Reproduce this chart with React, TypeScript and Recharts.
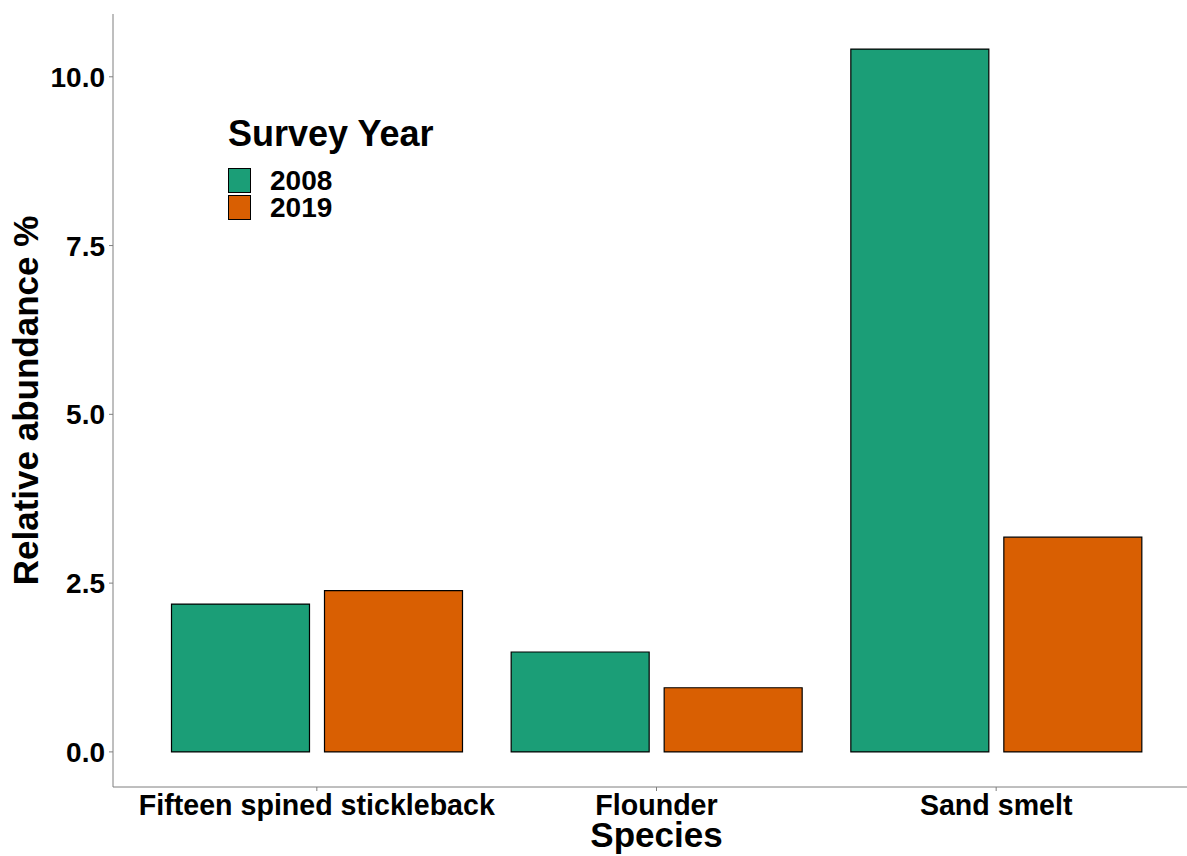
import React from 'react';
import { BarChart, Bar, XAxis, YAxis, Legend, Label } from 'recharts';

const species = ['Fifteen spined stickleback', 'Flounder', 'Sand smelt'];
const values2008 = [2.19, 1.48, 10.41];
const values2019 = [2.39, 0.95, 3.18];
const yTicks = [0, 2.5, 5, 7.5, 10];
const seriesNames = ['2008', '2019'];
const seriesColors = ['#1B9E77', '#D95F02'];

const data = species.map((s, i) => ({ species: s, y2008: values2008[i], y2019: values2019[i] }));

const FONT = '"Liberation Sans", Arial, sans-serif';
const AXIS_COLOR = '#7f7f7f';

const renderLegend = () => (
  <div style={{ fontFamily: FONT, fontWeight: 'bold', color: '#000' }}>
    <div style={{ fontSize: 36, lineHeight: '36px', whiteSpace: 'nowrap', marginBottom: 16.5 }}>Survey Year</div>
    {seriesNames.map((n, i) => (
      <div key={n} style={{ display: 'flex', alignItems: 'flex-start', height: 26.5 }}>
        <div
          style={{
            width: 23,
            height: 25,
            boxSizing: 'border-box',
            background: seriesColors[i],
            border: '1px solid #000',
          }}
        />
        <div style={{ fontSize: 28, lineHeight: '26px', marginLeft: 19 }}>{n}</div>
      </div>
    ))}
  </div>
);

const YLabel = (props: any) => {
  const vb = props.viewBox || {};
  const x = vb.x + 38;
  const y = vb.y + vb.height / 2;
  return (
    <text
      x={x}
      y={y}
      transform={`rotate(-90, ${x}, ${y})`}
      textAnchor="middle"
      fontFamily={FONT}
      fontWeight="bold"
      fontSize={35}
      fill="#000"
    >
      Relative abundance %
    </text>
  );
};

const XLabel = (props: any) => {
  const vb = props.viewBox || {};
  const x = vb.x + vb.width / 2;
  const y = vb.y + 60;
  return (
    <text x={x} y={y} textAnchor="middle" fontFamily={FONT} fontWeight="bold" fontSize={35} fill="#000">
      Species
    </text>
  );
};

export default function App() {
  return (
    <div style={{ position: 'absolute', left: 0, top: 0, width: 1187, height: 856, overflow: 'hidden', background: '#fff' }}>
      <BarChart
        width={1220}
        height={856}
        data={data}
        margin={{ top: 14, right: 20, bottom: 0, left: 0 }}
        barCategoryGap={24.5}
        barGap={15}
      >
        <XAxis
          dataKey="species"
          height={69}
          padding={{ left: 34, right: 34 }}
          tickSize={4}
          tickMargin={4}
          axisLine={{ stroke: AXIS_COLOR, strokeWidth: 1 }}
          tickLine={{ stroke: AXIS_COLOR, strokeWidth: 1 }}
          tick={{ fill: '#000', fontSize: 28.6, fontWeight: 'bold', fontFamily: FONT }}
          interval={0}
        >
          <Label content={XLabel} />
        </XAxis>
        <YAxis
          width={113}
          type="number"
          domain={[-0.52, 10.93]}
          allowDataOverflow
          ticks={yTicks}
          tickFormatter={(v: number) => v.toFixed(1)}
          tickSize={4}
          tickMargin={4}
          axisLine={{ stroke: AXIS_COLOR, strokeWidth: 1 }}
          tickLine={{ stroke: AXIS_COLOR, strokeWidth: 1 }}
          tick={{ fill: '#000', fontSize: 28, fontWeight: 'bold', fontFamily: FONT }}
        >
          <Label content={YLabel} />
        </YAxis>
        <Legend
          layout="vertical"
          align="center"
          verticalAlign="middle"
          content={renderLegend}
          wrapperStyle={{ position: 'absolute', left: 228, top: 115.5, width: 'auto', height: 'auto' }}
        />
        <Bar dataKey="y2008" name={seriesNames[0]} fill={seriesColors[0]} stroke="#000" strokeWidth={1.2} isAnimationActive={false} />
        <Bar dataKey="y2019" name={seriesNames[1]} fill={seriesColors[1]} stroke="#000" strokeWidth={1.2} isAnimationActive={false} />
      </BarChart>
    </div>
  );
}
